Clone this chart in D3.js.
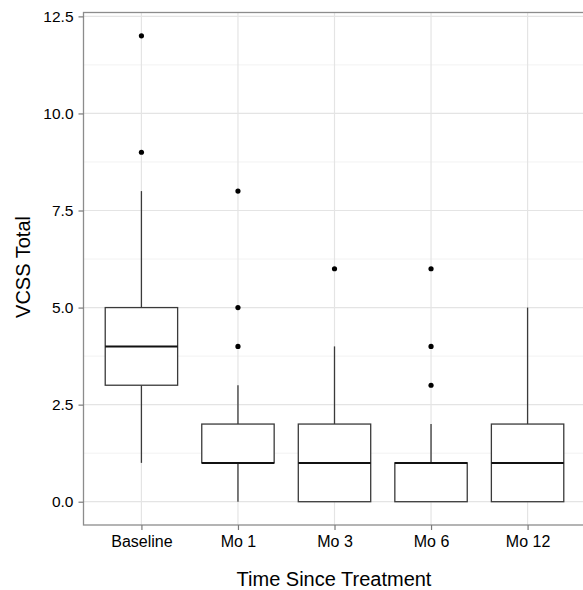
<!DOCTYPE html>
<html><head><meta charset="utf-8">
<script src="https://cdn.jsdelivr.net/npm/d3@7"></script>
<style>body{margin:0;background:#fff;}text{font-family:"Liberation Sans",Arial,sans-serif;}</style>
</head><body>
<script>
const categories = ["Baseline","Mo 1","Mo 3","Mo 6","Mo 12"];
const whiskerLow = [1,0,0,0,0];
const q1 = [3,1,0,0,0];
const median = [4,1,1,1,1];
const q3 = [5,2,2,1,2];
const whiskerHigh = [8,3,4,2,5];
const outliers = [[9,12],[4,5,8],[6],[3,4,6],[]];
const yTicks = [0,2.5,5,7.5,10,12.5];
const yMinor = [1.25,3.75,6.25,8.75,11.25];

(function(){
const W=583,H=590;
const svg=d3.select("body").append("svg").attr("width",W).attr("height",H);
const pL=83.5, pT=12.5, pB=525, pR=585.5;
const y=d3.scaleLinear().domain([-0.6,12.6]).range([pB,pT]);
const x=d3.scalePoint().domain(categories).range([pL,pR]).padding(0.6);
const step=x.step();
const bw=step*0.75;

const g=svg.append("g");
g.selectAll(".ymin").data(yMinor).enter().append("line")
 .attr("x1",pL).attr("x2",pR).attr("y1",d=>y(d)).attr("y2",d=>y(d))
 .attr("stroke","#f2f2f2").attr("stroke-width",1);
g.selectAll(".ymaj").data(yTicks).enter().append("line")
 .attr("x1",pL).attr("x2",pR).attr("y1",d=>y(d)).attr("y2",d=>y(d))
 .attr("stroke","#e4e4e4").attr("stroke-width",1.2);
g.selectAll(".xmaj").data(categories).enter().append("line")
 .attr("x1",d=>x(d)).attr("x2",d=>x(d)).attr("y1",pT).attr("y2",pB)
 .attr("stroke","#e4e4e4").attr("stroke-width",1.2);

const data=categories.map((c,i)=>({c,lo:whiskerLow[i],q1:q1[i],med:median[i],q3:q3[i],hi:whiskerHigh[i],out:outliers[i]}));
const bg=g.selectAll(".box").data(data).enter().append("g");
bg.append("line").attr("x1",d=>x(d.c)).attr("x2",d=>x(d.c)).attr("y1",d=>y(d.q3)).attr("y2",d=>y(d.hi))
 .attr("stroke","#3a3a3a").attr("stroke-width",1.3);
bg.append("line").attr("x1",d=>x(d.c)).attr("x2",d=>x(d.c)).attr("y1",d=>y(d.q1)).attr("y2",d=>y(d.lo))
 .attr("stroke","#3a3a3a").attr("stroke-width",1.3);
bg.append("rect").attr("x",d=>x(d.c)-bw/2).attr("width",bw).attr("y",d=>y(d.q3)).attr("height",d=>y(d.q1)-y(d.q3))
 .attr("fill","#fff").attr("stroke","#3a3a3a").attr("stroke-width",1.3);
bg.append("line").attr("x1",d=>x(d.c)-bw/2).attr("x2",d=>x(d.c)+bw/2).attr("y1",d=>y(d.med)).attr("y2",d=>y(d.med))
 .attr("stroke","#111").attr("stroke-width",2);
bg.each(function(d){
  d3.select(this).selectAll("circle").data(d.out).enter().append("circle")
   .attr("cx",x(d.c)).attr("cy",v=>y(v)).attr("r",2.6).attr("fill","#000");
});

svg.append("rect").attr("x",pL).attr("y",pT).attr("width",pR-pL).attr("height",pB-pT)
 .attr("fill","none").attr("stroke","#8c8c8c").attr("stroke-width",1.3);

const ya=svg.append("g").attr("transform",`translate(${pL},0)`)
 .call(d3.axisLeft(y).tickValues(yTicks).tickFormat(d3.format(".1f")).tickSize(5).tickPadding(5));
ya.select(".domain").remove();
ya.selectAll("line").attr("stroke","#7a7a7a").attr("stroke-width",1.2);
ya.selectAll("text").attr("font-size",15.5).attr("fill","#000").attr("font-family","Liberation Sans, Arial");

const xa=svg.append("g").attr("transform",`translate(0,${pB})`)
 .call(d3.axisBottom(x).tickSize(5).tickPadding(6));
xa.select(".domain").remove();
xa.selectAll("line").attr("stroke","#7a7a7a").attr("stroke-width",1.2);
xa.selectAll("text").attr("font-size",16).attr("fill","#000").attr("font-family","Liberation Sans, Arial");

svg.append("text").attr("x",334).attr("y",586).attr("text-anchor","middle").attr("font-size",20).attr("fill","#000").text("Time Since Treatment");
svg.append("text").attr("transform","translate(29.5,267) rotate(-90)").attr("text-anchor","middle").attr("font-size",20).attr("fill","#000").text("VCSS Total");
})();
</script>
</body></html>
